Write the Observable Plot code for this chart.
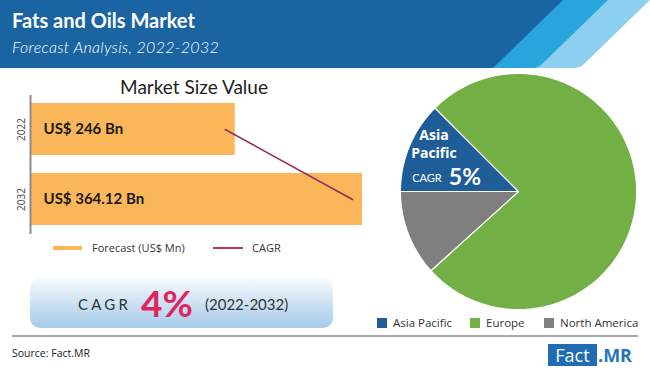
<!DOCTYPE html>
<html><head><meta charset="utf-8">
<script src="https://cdn.jsdelivr.net/npm/d3@7"></script>
<script src="https://cdn.jsdelivr.net/npm/@observablehq/plot@0.6"></script>
<style>
body{margin:0;background:#fff;}
#root{position:relative;width:650px;height:370px;overflow:hidden;font-family:Lato,sans-serif;background:#fff;}
.abs{position:absolute;white-space:nowrap;}
</style></head><body><div id="root"></div>
<script>
// ---- data ----
const years = ["2022", "2032"];
const marketValues = [246, 364.12];
const valueUnit = "Bn";
const regions = ["Asia Pacific", "Europe", "North America"];
const regionShares = [12.5, 75.8, 11.7];
const regionColors = ["#1f5d98", "#72af44", "#7f7f7f"];
const cagrOverall = 4;
const cagrAsiaPacific = 5;
const period = "2022-2032";
const title = "Fats and Oils Market";
const subtitle = "Forecast Analysis, 2022-2032";

const root = document.getElementById("root");
function add(html) { root.insertAdjacentHTML("beforeend", html); }

// ---- header ----
add(`<svg class="abs" style="left:0;top:0" width="650" height="70">
  <path d="M0,0H650L584,64Q580,68 574,68H0Z" fill="#8ccfee"/>
  <path d="M0,0H608L542,64Q538,68 532,68H0Z" fill="#2aa4dc"/>
  <path d="M0,0H563L493,68H0Z" fill="#1b64a2"/>
</svg>`);
add(`<div class="abs" style="left:12px;top:10px;font:bold 20px/20px Lato;color:#fff">${title}</div>`);
add(`<div class="abs" style="left:12px;top:39px;font:italic 300 16px/16px Lato;color:#fff;letter-spacing:0.3px">${subtitle}</div>`);

// ---- bar chart ----
add(`<div class="abs" style="left:0;top:77px;width:388px;text-align:center;font:19px/20px Lato;color:#222">Market Size Value</div>`);
const barData = years.map((y, i) => ({year: y, value: marketValues[i]}));
const X0 = 56;
const bar = Plot.plot({
  width: 380, height: 139,
  marginLeft: 30, marginRight: 18, marginTop: 0, marginBottom: 0,
  style: {fontFamily: "Open Sans", background: "transparent", color: "#444"},
  x: {domain: [X0, d3.max(marketValues)], axis: null},
  y: {domain: years, paddingInner: 0.257, paddingOuter: 0.121, tickSize: 0, tickRotate: -90, tickPadding: 6, label: null, fontSize: 11},
  marks: [
    Plot.barX(barData, {x1: () => X0, x2: "value", y: "year", fill: "#fbb65a"}),
    Plot.ruleX([X0], {stroke: "#8c8c8c", strokeWidth: 2}),
    Plot.line(barData, {x: "value", y: "year", dx: -10, stroke: "#9a2b5f", strokeWidth: 1.6}),
    Plot.text(barData, {x: () => X0, y: "year", text: d => `US$ ${d.value} ${valueUnit}`, textAnchor: "start", dx: 13,
      fontFamily: "Lato", fontSize: 15, fontWeight: "bold", fill: "#1a1a1a"})
  ]
});
bar.style.position = "absolute"; bar.style.left = "0px"; bar.style.top = "95px";
root.appendChild(bar);

// legend for bar chart
add(`<div class="abs" style="left:53px;top:246px;width:29px;height:4px;background:#fbb65a"></div>`);
add(`<div class="abs" style="left:92px;top:240px;font:11px/16px 'Open Sans';color:#333">Forecast (US$ Mn)</div>`);
add(`<div class="abs" style="left:213px;top:247px;width:30px;height:2px;background:#c2306a"></div>`);
add(`<div class="abs" style="left:252px;top:240px;font:11px/16px 'Open Sans';color:#333">CAGR</div>`);

// CAGR box
add(`<div class="abs" style="left:30px;top:278px;width:303px;height:50px;border-radius:10px;background:linear-gradient(#f6fafd,#a6cae8);"></div>`);
add(`<div class="abs" style="left:78px;top:295px;font:15px/18px Lato;color:#333;letter-spacing:3.2px">CAGR</div>`);
add(`<div class="abs" style="left:141px;top:284px;font:bold 37px/37px Lato;color:#e0245e">${cagrOverall}%</div>`);
add(`<div class="abs" style="left:205px;top:295px;font:15px/18px Lato;color:#333">(${period})</div>`);

// ---- pie chart ----
const pieData = regions.map((r, i) => ({region: r, share: regionShares[i]}));
const arcs = d3.pie().value(d => d.share).sort(null).startAngle(-Math.PI / 2).endAngle(3 * Math.PI / 2)(pieData);
const slicePoints = arcs.flatMap(a => {
  const pts = [{region: a.data.region, x: 0, y: 0}];
  const n = Math.max(2, Math.ceil((a.endAngle - a.startAngle) / 0.02));
  for (let k = 0; k <= n; k++) {
    const t = a.startAngle + (a.endAngle - a.startAngle) * k / n;
    pts.push({region: a.data.region, x: Math.sin(t), y: Math.cos(t)});
  }
  return pts;
});
const apArc = arcs[0];
const c = d3.arc().innerRadius(0).outerRadius(1.44).centroid(apArc);
const apLabel = [{x: c[0], y: -c[1]}];
const pie = Plot.plot({
  width: 248, height: 248, margin: 0,
  style: {background: "transparent"},
  x: {domain: [-1.05, 1.05], axis: null},
  y: {domain: [-1.05, 1.05], axis: null},
  color: {domain: regions, range: regionColors},
  marks: [
    Plot.line(slicePoints, {x: "x", y: "y", z: "region", fill: "region", stroke: "#fff", strokeWidth: 1.2, curve: "linear-closed"}),
    Plot.text(apLabel, {x: "x", y: "y", text: () => "Asia", dx: -6, dy: -23, fill: "#fff", fontFamily: "Open Sans", fontWeight: "bold", fontSize: 14}),
    Plot.text(apLabel, {x: "x", y: "y", text: () => "Pacific", dx: -6, dy: -5, fill: "#fff", fontFamily: "Open Sans", fontWeight: "bold", fontSize: 14}),
    Plot.text(apLabel, {x: "x", y: "y", text: () => "CAGR", dx: -13, dy: 20, fill: "#fff", fontFamily: "Lato", fontSize: 11}),
    Plot.text(apLabel, {x: "x", y: "y", text: () => `${cagrAsiaPacific}%`, dx: 25, dy: 19, fill: "#fff", fontFamily: "Lato", fontWeight: "bold", fontSize: 23})
  ]
});
pie.style.position = "absolute"; pie.style.left = "394px"; pie.style.top = "67px";
root.appendChild(pie);

// pie legend
const legX = [377, 470, 544];
regions.forEach((r, i) => {
  add(`<div class="abs" style="left:${legX[i]}px;top:318px;width:10px;height:10px;background:${regionColors[i]}"></div>`);
  add(`<div class="abs" style="left:${legX[i] + 16}px;top:315px;font:11.5px/16px 'Open Sans';color:#333">${r}</div>`);
});

// ---- footer ----
add(`<div class="abs" style="left:12px;top:335px;width:626px;height:2px;background:#a8a8a8"></div>`);
add(`<div class="abs" style="left:12px;top:346px;font:10.5px/14px 'Open Sans';color:#222">Source: Fact.MR</div>`);
add(`<div class="abs" style="left:548px;top:344px;width:49px;height:22px;background:#1f6db0;color:#fff;font:18px/22px 'Open Sans';text-align:center">Fact</div>`);
add(`<div class="abs" style="left:598px;top:344px;font:bold 18px/22px 'Open Sans';color:#1f74bd">.MR</div>`);
</script></body></html>
